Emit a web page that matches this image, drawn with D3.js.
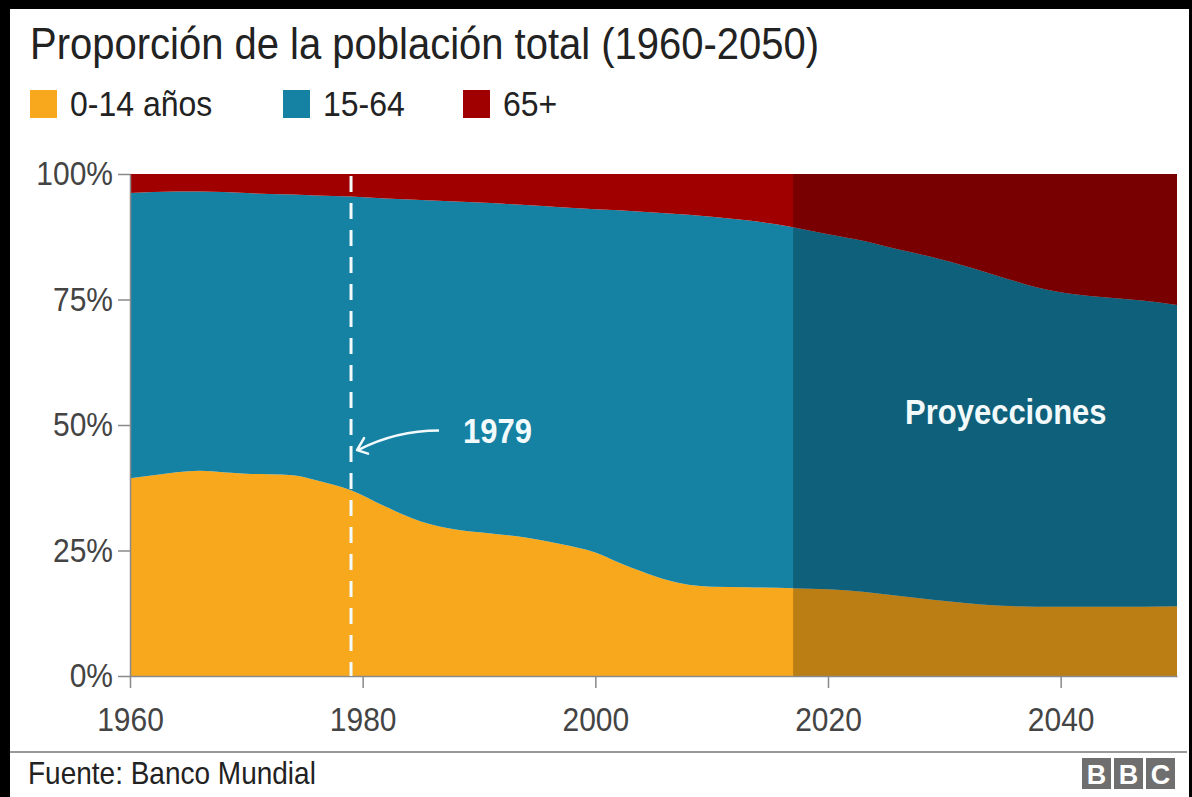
<!DOCTYPE html>
<html lang="es">
<head>
<meta charset="utf-8">
<title>Proporción de la población total (1960-2050)</title>
<script src="https://cdn.jsdelivr.net/npm/d3@7"></script>
<style>
    html, body { margin: 0; padding: 0; background: #fff; }
    svg { display: block; font-family: "Liberation Sans", Arial, Helvetica, sans-serif; }
</style>
</head>
<body>
<svg id="chart" width="1192" height="797"></svg>
<script>
// Data (share of total population, %)
const years = [1960, 1962, 1964, 1966, 1968, 1970, 1972, 1974, 1976, 1979, 1982, 1985, 1988,
    1991, 1994, 1997, 2000, 2002, 2004, 2006, 2008, 2010, 2013, 2017, 2020, 2023, 2026,
    2029, 2032, 2035, 2038, 2041, 2044, 2047, 2050];
const young = [39.4, 40.0, 40.6, 40.9, 40.6, 40.3, 40.2, 40.0, 39.0, 37.0, 33.7, 30.8, 29.2,
    28.4, 27.6, 26.3, 24.6, 22.6, 20.8, 19.2, 18.2, 17.8, 17.7, 17.5, 17.3, 16.8, 16.0,
    15.2, 14.5, 14.0, 13.8, 13.8, 13.8, 13.8, 13.9];
const working = [56.8, 56.4, 55.9, 55.6, 55.8, 55.9, 55.8, 55.9, 56.7, 58.5, 61.4, 64.0, 65.3,
    65.8, 66.2, 67.1, 68.4, 70.2, 71.7, 73.0, 73.7, 73.7, 73.1, 71.9, 70.7, 69.9, 69.0,
    68.2, 67.0, 65.4, 63.6, 62.3, 61.6, 61.0, 60.0];
const elderly = [3.8, 3.6, 3.5, 3.5, 3.6, 3.8, 4.0, 4.1, 4.3, 4.5, 4.9, 5.2, 5.5,
    5.8, 6.2, 6.6, 7.0, 7.2, 7.5, 7.8, 8.1, 8.5, 9.2, 10.6, 12.0, 13.3, 15.0,
    16.6, 18.5, 20.6, 22.6, 23.9, 24.6, 25.2, 26.1];

const seriesKeys = ['young', 'working', 'elderly'];
const legendLabels = ['0-14 años', '15-64', '65+'];
const xTicks = [1960, 1980, 2000, 2020, 2040];
const yTicks = [0, 25, 50, 75, 100];
const markerYear = 1979;
const projectionStart = 2017;

(function() {
    'use strict';

    const CONFIG = {
        width: 1192,
        height: 797,
        plot: { left: 130, right: 1177, top: 174, bottom: 676 },
        stretch: 1.12,   // the source screenshot has slightly tall lettering
        colors: {
            young: '#f8a81d',
            working: '#1581a3',
            elderly: '#a00000',
            axis: '#8a8a8a',
            text: '#222',
            tick: '#444',
            annotation: '#f2fafc'
        }
    };

    const svg = d3.select('#chart');

    svg.append('rect')
        .attr('width', CONFIG.width)
        .attr('height', CONFIG.height)
        .attr('fill', '#fff');

    // Place a text with its baseline at (x, y), stretched vertically
    function label(parent, x, y, str, size, opts = {}) {
        return parent.append('text')
            .attr('transform', `translate(${x},${y}) scale(1,${CONFIG.stretch})`)
            .attr('font-size', size)
            .attr('font-weight', opts.bold ? 'bold' : null)
            .attr('text-anchor', opts.anchor || 'start')
            .attr('fill', opts.fill || CONFIG.colors.text)
            .text(str);
    }

    // Build rows for the stack
    const rows = years.map((year, i) => ({
        year: year,
        young: young[i],
        working: working[i],
        elderly: elderly[i]
    }));

    const stacked = d3.stack().keys(seriesKeys)(rows);

    const x = d3.scaleLinear()
        .domain([1960, 2050])
        .range([CONFIG.plot.left, CONFIG.plot.right]);

    const y = d3.scaleLinear()
        .domain([0, 100])
        .range([CONFIG.plot.bottom, CONFIG.plot.top]);

    const area = d3.area()
        .x(d => x(d.data.year))
        .y0(d => y(d[0]))
        .y1(d => y(d[1]))
        .curve(d3.curveMonotoneX);

    // Stacked areas
    svg.append('g')
        .selectAll('path')
        .data(stacked)
        .join('path')
        .attr('fill', d => CONFIG.colors[d.key])
        .attr('d', area);

    // Projection shading
    svg.append('rect')
        .attr('x', x(projectionStart))
        .attr('y', y(100))
        .attr('width', x(2050) - x(projectionStart))
        .attr('height', y(0) - y(100))
        .attr('fill', '#000')
        .attr('opacity', 0.25);

    // Axes
    const yAxis = svg.append('g')
        .attr('transform', `translate(${CONFIG.plot.left},0)`)
        .call(d3.axisLeft(y).tickValues(yTicks).tickSize(12).tickSizeOuter(0)
            .tickPadding(5).tickFormat(d => d + '%'));

    const xAxis = svg.append('g')
        .attr('transform', `translate(0,${CONFIG.plot.bottom})`)
        .call(d3.axisBottom(x).tickValues(xTicks).tickSize(12).tickSizeOuter(0)
            .tickFormat(d3.format('d')));

    [yAxis, xAxis].forEach(ax => {
        ax.select('.domain').attr('stroke', CONFIG.colors.axis).attr('stroke-width', 1.5);
        ax.selectAll('.tick line').attr('stroke', CONFIG.colors.axis).attr('stroke-width', 1.5);
        ax.selectAll('.tick text')
            .attr('fill', CONFIG.colors.tick)
            .attr('font-size', 30)
            .attr('font-family', '"Liberation Sans", Arial, sans-serif')
            .attr('transform', `scale(1,${CONFIG.stretch})`);
    });

    // x labels: baseline about 55px under the axis once stretched
    xAxis.selectAll('.tick text')
        .attr('y', 55 / CONFIG.stretch)
        .attr('dy', 0);

    // Dashed 1979 marker
    const mx = x(markerYear);
    svg.append('line')
        .attr('x1', mx)
        .attr('x2', mx)
        .attr('y1', y(100) + 2)
        .attr('y2', y(0))
        .attr('stroke', CONFIG.colors.annotation)
        .attr('stroke-width', 3)
        .attr('stroke-dasharray', '16,11');

    // Curved arrow pointing at the marker
    svg.append('path')
        .attr('d', `M${mx + 88},${y(48.9)} Q${mx + 45},${y(48.9)} ${mx + 7},${y(45)}`)
        .attr('fill', 'none')
        .attr('stroke', CONFIG.colors.annotation)
        .attr('stroke-width', 2.5);
    svg.append('path')
        .attr('d', `M${mx + 13},${y(47.4)} L${mx + 6},${y(45)} L${mx + 17},${y(44.3)}`)
        .attr('fill', 'none')
        .attr('stroke', CONFIG.colors.annotation)
        .attr('stroke-width', 2.5)
        .attr('stroke-linecap', 'round')
        .attr('stroke-linejoin', 'round');

    label(svg, mx + 112, y(48.8) + 12, String(markerYear), 31,
        { bold: true, fill: CONFIG.colors.annotation });
    label(svg, 905, y(52.5) + 12, 'Proyecciones', 31,
        { bold: true, fill: CONFIG.colors.annotation });

    // Title
    label(svg, 30, 59, 'Proporción de la población total (1960-2050)', 40);

    // Legend
    const legendX = [30, 283, 463];
    seriesKeys.forEach((key, i) => {
        svg.append('rect')
            .attr('x', legendX[i])
            .attr('y', 90)
            .attr('width', 27)
            .attr('height', 28)
            .attr('fill', CONFIG.colors[key]);
        label(svg, legendX[i] + 40, 116, legendLabels[i], 32);
    });

    // Footer
    svg.append('line')
        .attr('x1', 10)
        .attr('x2', 1187)
        .attr('y1', 752)
        .attr('y2', 752)
        .attr('stroke', '#777')
        .attr('stroke-width', 1.5);

    label(svg, 28, 784, 'Fuente: Banco Mundial', 28);

    // BBC blocks
    const bbc = svg.append('g')
        .selectAll('g')
        .data(['B', 'B', 'C'])
        .join('g')
        .attr('transform', (d, i) => `translate(${1082 + i * 32},758)`);

    bbc.append('rect')
        .attr('width', 29)
        .attr('height', 31)
        .attr('fill', '#6f6f6f');

    bbc.append('text')
        .attr('x', 14.5)
        .attr('y', 26)
        .attr('text-anchor', 'middle')
        .attr('fill', '#fff')
        .attr('font-size', 27)
        .attr('font-weight', 'bold')
        .text(d => d);

    // Black frame around the screenshot
    svg.append('rect').attr('x', 0).attr('y', 0).attr('width', CONFIG.width).attr('height', 9).attr('fill', '#000');
    svg.append('rect').attr('x', 0).attr('y', 0).attr('width', 10).attr('height', CONFIG.height).attr('fill', '#000');
    svg.append('rect').attr('x', 1189).attr('y', 0).attr('width', 3).attr('height', CONFIG.height).attr('fill', '#000');
})();
</script>
</body>
</html>
